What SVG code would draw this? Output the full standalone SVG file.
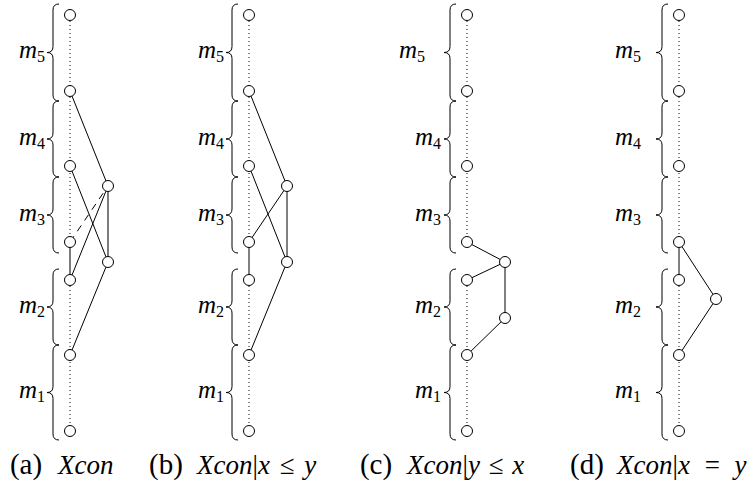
<svg xmlns="http://www.w3.org/2000/svg" width="755" height="490" viewBox="0 0 755 490">
<style>
.n{fill:#fff;stroke:#000;stroke-width:1}
.e{stroke:#000;stroke-width:1;fill:none}
.g{stroke:#444;stroke-width:1.4;fill:none}
.d{stroke:#000;stroke-width:1;fill:none;stroke-dasharray:7 6}
.dot{stroke:#222;stroke-width:1.1;fill:none;stroke-dasharray:1 3}
.br{stroke:#000;stroke-width:1;fill:none}
.lab{font-family:"Liberation Serif",serif;font-size:25px;font-style:italic}
.cap{font-family:"Liberation Serif",serif;font-size:27px}
.pl{font-size:29px;text-anchor:middle}
.sb{font-size:16px;font-style:normal}
.it{font-style:italic}
</style>
<rect width="755" height="490" fill="#fff"/>
<g id="dotted">
<path class="dot" d="M70 21V236M70 286V425M249 21V236M249 286V425M467 21V236M467 286V425M679 21V236M679 286V425"/>
</g>
<g id="braces">
<path class="br" d="M59 4Q53 4 53 10V46.5Q53 52.5 47 52.5Q53 52.5 53 58.5V95Q53 101 59 101"/>
<path class="br" d="M59 101Q53 101 53 107V133Q53 139 47 139Q53 139 53 145V171Q53 177 59 177"/>
<path class="br" d="M59 177Q53 177 53 183V209Q53 215 47 215Q53 215 53 221V247Q53 253 59 253"/>
<path class="br" d="M59 269Q53 269 53 275V301Q53 307 47 307Q53 307 53 313V339Q53 345 59 345"/>
<path class="br" d="M59 345Q53 345 53 351V386.5Q53 392.5 47 392.5Q53 392.5 53 398.5V434Q53 440 59 440"/>
<path class="br" d="M238 4Q232 4 232 10V46.5Q232 52.5 226 52.5Q232 52.5 232 58.5V95Q232 101 238 101"/>
<path class="br" d="M238 101Q232 101 232 107V133Q232 139 226 139Q232 139 232 145V171Q232 177 238 177"/>
<path class="br" d="M238 177Q232 177 232 183V209Q232 215 226 215Q232 215 232 221V247Q232 253 238 253"/>
<path class="br" d="M238 269Q232 269 232 275V301Q232 307 226 307Q232 307 232 313V339Q232 345 238 345"/>
<path class="br" d="M238 345Q232 345 232 351V386.5Q232 392.5 226 392.5Q232 392.5 232 398.5V434Q232 440 238 440"/>
<path class="br" d="M456 4Q450 4 450 10V46.5Q450 52.5 444 52.5Q450 52.5 450 58.5V95Q450 101 456 101"/>
<path class="br" d="M456 101Q450 101 450 107V133Q450 139 444 139Q450 139 450 145V171Q450 177 456 177"/>
<path class="br" d="M456 177Q450 177 450 183V209Q450 215 444 215Q450 215 450 221V247Q450 253 456 253"/>
<path class="br" d="M456 269Q450 269 450 275V301Q450 307 444 307Q450 307 450 313V339Q450 345 456 345"/>
<path class="br" d="M456 345Q450 345 450 351V386.5Q450 392.5 444 392.5Q450 392.5 450 398.5V434Q450 440 456 440"/>
<path class="br" d="M668 4Q662 4 662 10V46.5Q662 52.5 656 52.5Q662 52.5 662 58.5V95Q662 101 668 101"/>
<path class="br" d="M668 101Q662 101 662 107V133Q662 139 656 139Q662 139 662 145V171Q662 177 668 177"/>
<path class="br" d="M668 177Q662 177 662 183V209Q662 215 656 215Q662 215 662 221V247Q662 253 668 253"/>
<path class="br" d="M668 269Q662 269 662 275V301Q662 307 656 307Q662 307 662 313V339Q662 345 668 345"/>
<path class="br" d="M668 345Q662 345 662 351V386.5Q662 392.5 656 392.5Q662 392.5 662 398.5V434Q662 440 668 440"/>
</g>
<g id="labels" class="lab" text-anchor="end">
<text x="45" y="58">m<tspan class="sb" dy="4">5</tspan></text>
<text x="45" y="144.5">m<tspan class="sb" dy="4">4</tspan></text>
<text x="45" y="220.5">m<tspan class="sb" dy="4">3</tspan></text>
<text x="45" y="312.5">m<tspan class="sb" dy="4">2</tspan></text>
<text x="45" y="398">m<tspan class="sb" dy="4">1</tspan></text>
<text x="224" y="58">m<tspan class="sb" dy="4">5</tspan></text>
<text x="224" y="144.5">m<tspan class="sb" dy="4">4</tspan></text>
<text x="224" y="220.5">m<tspan class="sb" dy="4">3</tspan></text>
<text x="224" y="312.5">m<tspan class="sb" dy="4">2</tspan></text>
<text x="224" y="398">m<tspan class="sb" dy="4">1</tspan></text>
<text x="425" y="58">m<tspan class="sb" dy="4">5</tspan></text>
<text x="441" y="144.5">m<tspan class="sb" dy="4">4</tspan></text>
<text x="441" y="220.5">m<tspan class="sb" dy="4">3</tspan></text>
<text x="441" y="312.5">m<tspan class="sb" dy="4">2</tspan></text>
<text x="441" y="398">m<tspan class="sb" dy="4">1</tspan></text>
<text x="641" y="58">m<tspan class="sb" dy="4">5</tspan></text>
<text x="641" y="144.5">m<tspan class="sb" dy="4">4</tspan></text>
<text x="641" y="220.5">m<tspan class="sb" dy="4">3</tspan></text>
<text x="641" y="312.5">m<tspan class="sb" dy="4">2</tspan></text>
<text x="641" y="398">m<tspan class="sb" dy="4">1</tspan></text>
</g>
<g id="connectors">
<line class="e" x1="70" y1="91" x2="108" y2="186"/>
<line class="e" x1="70" y1="166" x2="108" y2="262"/>
<line class="e" x1="70" y1="280" x2="108" y2="186"/>
<line class="d" x1="70" y1="242" x2="108" y2="186"/>
<line class="g" x1="70" y1="242" x2="70" y2="280"/>
<line class="g" x1="108" y1="186" x2="108" y2="262"/>
<line class="e" x1="108" y1="262" x2="70" y2="355"/>
<line class="e" x1="249" y1="91" x2="287" y2="186"/>
<line class="e" x1="249" y1="166" x2="287" y2="262"/>
<line class="e" x1="249" y1="242" x2="287" y2="186"/>
<line class="e" x1="249" y1="242" x2="249" y2="280"/>
<line class="e" x1="287" y1="186" x2="287" y2="262"/>
<line class="e" x1="287" y1="262" x2="249" y2="355"/>
<line class="e" x1="467" y1="242" x2="505" y2="262"/>
<line class="e" x1="467" y1="280" x2="505" y2="262"/>
<line class="e" x1="505" y1="262" x2="505" y2="318"/>
<line class="e" x1="505" y1="318" x2="467" y2="355"/>
<line class="e" x1="679" y1="242" x2="679" y2="280"/>
<line class="e" x1="679" y1="242" x2="716" y2="299"/>
<line class="e" x1="716" y1="299" x2="679" y2="355"/>
</g>
<g id="a-nodes">
<g id="a1"><circle class="n" cx="70" cy="15" r="5.5"/></g>
<g id="a2"><circle class="n" cx="70" cy="91" r="5.5"/></g>
<g id="a3"><circle class="n" cx="70" cy="166" r="5.5"/></g>
<g id="a4"><circle class="n" cx="70" cy="242" r="5.5"/></g>
<g id="a5"><circle class="n" cx="70" cy="280" r="5.5"/></g>
<g id="a6"><circle class="n" cx="70" cy="355" r="5.5"/></g>
<g id="a7"><circle class="n" cx="70" cy="431" r="5.5"/></g>
<g id="a8"><circle class="n" cx="108" cy="186" r="5.5"/></g>
<g id="a9"><circle class="n" cx="108" cy="262" r="5.5"/></g>
</g>
<g id="b-nodes">
<g id="b1"><circle class="n" cx="249" cy="15" r="5.5"/></g>
<g id="b2"><circle class="n" cx="249" cy="91" r="5.5"/></g>
<g id="b3"><circle class="n" cx="249" cy="166" r="5.5"/></g>
<g id="b4"><circle class="n" cx="249" cy="242" r="5.5"/></g>
<g id="b5"><circle class="n" cx="249" cy="280" r="5.5"/></g>
<g id="b6"><circle class="n" cx="249" cy="355" r="5.5"/></g>
<g id="b7"><circle class="n" cx="249" cy="431" r="5.5"/></g>
<g id="b8"><circle class="n" cx="287" cy="186" r="5.5"/></g>
<g id="b9"><circle class="n" cx="287" cy="262" r="5.5"/></g>
</g>
<g id="c-nodes">
<g id="c1"><circle class="n" cx="467" cy="15" r="5.5"/></g>
<g id="c2"><circle class="n" cx="467" cy="91" r="5.5"/></g>
<g id="c3"><circle class="n" cx="467" cy="166" r="5.5"/></g>
<g id="c4"><circle class="n" cx="467" cy="242" r="5.5"/></g>
<g id="c5"><circle class="n" cx="467" cy="280" r="5.5"/></g>
<g id="c6"><circle class="n" cx="467" cy="355" r="5.5"/></g>
<g id="c7"><circle class="n" cx="467" cy="431" r="5.5"/></g>
<g id="c8"><circle class="n" cx="505" cy="262" r="5.5"/></g>
<g id="c9"><circle class="n" cx="505" cy="318" r="5.5"/></g>
</g>
<g id="d-nodes">
<g id="d1"><circle class="n" cx="679" cy="15" r="5.5"/></g>
<g id="d2"><circle class="n" cx="679" cy="91" r="5.5"/></g>
<g id="d3"><circle class="n" cx="679" cy="166" r="5.5"/></g>
<g id="d4"><circle class="n" cx="679" cy="242" r="5.5"/></g>
<g id="d5"><circle class="n" cx="679" cy="280" r="5.5"/></g>
<g id="d6"><circle class="n" cx="679" cy="355" r="5.5"/></g>
<g id="d7"><circle class="n" cx="679" cy="431" r="5.5"/></g>
<g id="d8"><circle class="n" cx="716" cy="299" r="5.5"/></g>
</g>
<g id="captions" class="cap">
<text x="26" y="474" class="pl">(a)</text>
<text x="58" y="474" class="it">Xcon</text>
<text x="166" y="474" class="pl">(b)</text>
<text x="197" y="474" word-spacing="3"><tspan class="it">Xcon</tspan>|<tspan class="it">x</tspan> ≤ <tspan class="it">y</tspan></text>
<text x="376" y="474" class="pl">(c)</text>
<text x="407" y="474" word-spacing="2"><tspan class="it">Xcon</tspan>|<tspan class="it">y</tspan> ≤ <tspan class="it">x</tspan></text>
<text x="587" y="474" class="pl">(d)</text>
<text x="617" y="474" word-spacing="8"><tspan class="it">Xcon</tspan>|<tspan class="it">x</tspan> = <tspan class="it">y</tspan></text>
</g>
</svg>
